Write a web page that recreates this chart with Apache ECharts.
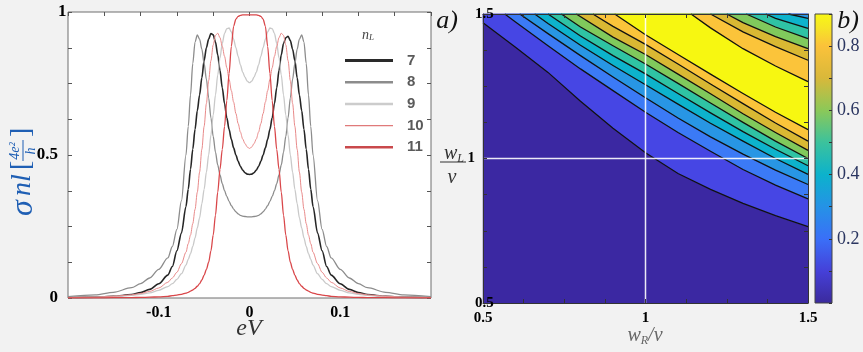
<!DOCTYPE html>
<html>
<head>
<meta charset="utf-8">
<script src="https://cdn.jsdelivr.net/npm/echarts@6/dist/echarts.min.js"></script>
<style>
html,body{margin:0;padding:0;background:#f2f2f2;}
#c{width:863px;height:352px;}
</style>
</head>
<body>
<div id="c"></div>
<script>
// ---------- left panel data (sigma_nl vs eV) ----------
const energies = [-0.2,-0.17,-0.15,-0.13,-0.12,-0.11,-0.1,-0.09,-0.085,-0.08,-0.075,
  -0.07,-0.0675,-0.065,-0.0625,-0.06,-0.0575,-0.055,-0.0525,-0.05,-0.0475,-0.045,-0.0425,-0.04,-0.0375,-0.035,-0.0325,-0.03,-0.0275,-0.025,-0.0225,-0.02,-0.0175,-0.015,-0.0125,-0.01,-0.0075,-0.005,-0.0025,0,
  0.0025,0.005,0.0075,0.01,0.0125,0.015,0.0175,0.02,0.0225,0.025,0.0275,0.03,0.0325,0.035,0.0375,0.04,0.0425,0.045,0.0475,0.05,0.0525,0.055,0.0575,0.06,0.0625,0.065,0.0675,0.07,
  0.075,0.08,0.085,0.09,0.1,0.11,0.12,0.13,0.15,0.17,0.2];
const sigma7 = [0.0015,0.003,0.006,0.012,0.019,0.03,0.05,0.08,0.11,0.165,0.227,
  0.32,0.38,0.45,0.52,0.59,0.655,0.71,0.77,0.83,0.875,0.905,0.925,0.92,0.895,0.85,0.795,0.735,0.68,0.63,0.59,0.555,0.525,0.50,0.478,0.46,0.447,0.438,0.433,0.432,
  0.433,0.438,0.447,0.46,0.478,0.50,0.525,0.555,0.59,0.63,0.68,0.735,0.795,0.85,0.89,0.91,0.915,0.90,0.87,0.83,0.77,0.71,0.655,0.59,0.52,0.45,0.38,0.32,
  0.227,0.165,0.11,0.08,0.05,0.03,0.019,0.012,0.006,0.003,0.0015];
const sigma8 = [0.005,0.011,0.02,0.036,0.05,0.07,0.10,0.14,0.18,0.24,0.34,
  0.50,0.60,0.71,0.82,0.895,0.92,0.905,0.87,0.82,0.765,0.70,0.63,0.565,0.51,0.465,0.43,0.40,0.375,0.355,0.338,0.323,0.311,0.301,0.294,0.289,0.286,0.285,0.284,0.284,
  0.284,0.285,0.286,0.289,0.294,0.301,0.311,0.323,0.338,0.355,0.375,0.40,0.43,0.465,0.51,0.565,0.63,0.70,0.765,0.82,0.87,0.905,0.92,0.895,0.82,0.71,0.60,0.50,
  0.34,0.24,0.18,0.14,0.10,0.07,0.05,0.036,0.02,0.011,0.005];
const sigma9 = [0.0015,0.003,0.005,0.009,0.013,0.018,0.027,0.04,0.05,0.065,0.085,
  0.115,0.135,0.155,0.18,0.21,0.245,0.28,0.33,0.38,0.44,0.50,0.57,0.64,0.71,0.78,0.84,0.89,0.925,0.942,0.944,0.93,0.905,0.875,0.845,0.815,0.79,0.772,0.758,0.753,
  0.758,0.772,0.79,0.815,0.845,0.875,0.905,0.93,0.944,0.942,0.925,0.89,0.84,0.78,0.71,0.64,0.57,0.50,0.44,0.38,0.33,0.28,0.245,0.21,0.18,0.155,0.135,0.115,
  0.085,0.065,0.05,0.04,0.027,0.018,0.013,0.009,0.005,0.003,0.0015];
const sigma10 = [0.0015,0.003,0.006,0.011,0.016,0.023,0.035,0.055,0.07,0.09,0.12,
  0.16,0.19,0.22,0.26,0.31,0.37,0.44,0.52,0.60,0.68,0.76,0.83,0.885,0.918,0.926,0.91,0.88,0.845,0.805,0.765,0.725,0.685,0.645,0.61,0.58,0.556,0.54,0.528,0.523,
  0.528,0.54,0.556,0.58,0.61,0.645,0.685,0.725,0.765,0.805,0.845,0.88,0.91,0.926,0.918,0.885,0.83,0.76,0.68,0.60,0.52,0.44,0.37,0.31,0.26,0.22,0.19,0.16,
  0.12,0.09,0.07,0.055,0.035,0.023,0.016,0.011,0.006,0.003,0.0015];
const sigma11 = [0.0003,0.0005,0.001,0.0015,0.002,0.003,0.004,0.006,0.008,0.01,0.013,
  0.017,0.02,0.024,0.028,0.034,0.041,0.05,0.063,0.08,0.10,0.125,0.165,0.22,0.29,0.37,0.45,0.52,0.60,0.69,0.785,0.88,0.95,0.975,0.985,0.988,0.99,0.99,0.99,0.99,
  0.99,0.99,0.99,0.988,0.985,0.975,0.95,0.88,0.785,0.69,0.60,0.52,0.45,0.37,0.29,0.22,0.165,0.125,0.10,0.08,0.063,0.05,0.041,0.034,0.028,0.024,0.02,0.017,
  0.013,0.01,0.008,0.006,0.004,0.003,0.002,0.0015,0.001,0.0005,0.0003];
const curveNames = ['7','8','9','10','11'];
const curveColors = ['#262626','#8c8c8c','#c9c9c9','#e88a8a','#d9474a'];

// ---------- right panel data (contours in wR/v, wL/v) ----------
const lower1 = [[0.5,1.47],[0.6,1.385],[0.7,1.298],[0.8,1.198],[0.9,1.105],[1.0,1.02],[1.1,0.948],[1.2,0.893],[1.3,0.845],[1.4,0.802],[1.5,0.764]];
const lower2 = [[0.567,1.5],[0.6,1.472],[0.7,1.39],[0.8,1.31],[0.9,1.235],[1.0,1.16],[1.1,1.09],[1.2,1.025],[1.3,0.962],[1.4,0.908],[1.5,0.86]];
const lower3 = [[0.613,1.5],[0.7,1.432],[0.8,1.356],[0.9,1.282],[1.0,1.21],[1.1,1.14],[1.2,1.075],[1.3,1.015],[1.4,0.96],[1.5,0.91]];
const lower4 = [[0.659,1.5],[0.7,1.467],[0.8,1.392],[0.9,1.322],[1.0,1.255],[1.1,1.188],[1.2,1.122],[1.3,1.06],[1.4,1.0],[1.5,0.945]];
const lower5 = [[0.70,1.5],[0.8,1.424],[0.9,1.356],[1.0,1.293],[1.1,1.225],[1.2,1.158],[1.3,1.093],[1.4,1.032],[1.5,0.975]];
const lower6 = [[0.741,1.5],[0.8,1.455],[0.9,1.39],[1.0,1.327],[1.1,1.26],[1.2,1.192],[1.3,1.125],[1.4,1.06],[1.5,1.0]];
const lower7 = [[0.787,1.5],[0.9,1.42],[1.0,1.36],[1.1,1.292],[1.2,1.224],[1.3,1.155],[1.4,1.09],[1.5,1.028]];
const lower8 = [[0.838,1.5],[0.9,1.457],[1.0,1.395],[1.1,1.327],[1.2,1.258],[1.3,1.19],[1.4,1.123],[1.5,1.06]];
const lower9 = [[0.905,1.5],[1.0,1.428],[1.1,1.36],[1.2,1.292],[1.3,1.225],[1.4,1.16],[1.5,1.10]];
const upper4 = [[1.44,1.5],[1.5,1.485]];
const upper5 = [[1.37,1.5],[1.4,1.485],[1.5,1.45]];
const upper6 = [[1.31,1.5],[1.4,1.455],[1.5,1.415]];
const upper7 = [[1.25,1.5],[1.3,1.47],[1.4,1.422],[1.5,1.38]];
const upper8 = [[1.20,1.5],[1.3,1.438],[1.4,1.387],[1.5,1.34]];
const upper9 = [[1.14,1.5],[1.2,1.452],[1.3,1.38],[1.4,1.32],[1.5,1.266]];
const bandColors = ['#3b28a2','#4646e4','#3b7af6','#2896e4','#0db3cc','#2fc3a4','#80c95c','#d9b833','#fbc43a','#f7f711'];
const crossWR = 1, crossWL = 1;

// colorbar
const cbarStops = [[0,'#3b2a9c'],[0.111,'#4540d8'],[0.222,'#3a6ff8'],[0.333,'#2592e6'],[0.444,'#0cb2cc'],[0.556,'#3cc29c'],[0.667,'#8cc858'],[0.778,'#d9b83a'],[0.889,'#fbc23a'],[0.95,'#f6e426'],[1,'#f8f814']];
const cbarLabels = [0.2,0.4,0.6,0.8];

const lowerLines = [lower1,lower2,lower3,lower4,lower5,lower6,lower7,lower8,lower9];
const upperLines = {4:upper4,5:upper5,6:upper6,7:upper7,8:upper8,9:upper9};

const SERIF = "'Liberation Serif','DejaVu Serif',serif";
const chart = echarts.init(document.getElementById('c'));

function near(v, arr){ for (const a of arr){ if (Math.abs(v-a)<1e-6) return true;} return false; }

const lineSeries = [sigma7,sigma8,sigma9,sigma10,sigma11].map((vals,i)=>({
  type:'line', name:curveNames[i], xAxisIndex:0, yAxisIndex:0,
  data: energies.map((x,j)=>[x,vals[j]]),
  showSymbol:false, symbol:'none', smooth:0.3, smoothMonotone:'x',
  lineStyle:{color:curveColors[i], width:[1.6,1.3,1.3,1.0,1.3][i]},
  itemStyle:{color:curveColors[i]}, z:2+i
}));

const option = {
  animation:false,
  backgroundColor:'#f2f2f2',
  grid:[
    {left:68, top:12, width:363, height:286, show:true, backgroundColor:'#ffffff', borderColor:'#6e6e6e', borderWidth:1},
    {left:483, top:14, width:325, height:289},
    {left:815, top:14, width:17, height:289}
  ],
  xAxis:[
    {gridIndex:0, type:'value', min:-0.2, max:0.2, interval:0.1, position:'bottom',
     axisLine:{show:false, onZero:false}, axisTick:{show:false}, splitLine:{show:false},
     axisLabel:{showMinLabel:false, showMaxLabel:false, margin:7, color:'#000', fontFamily:SERIF, fontWeight:'bold', fontSize:16,
       formatter:v=>{const r=Math.round(v*10)/10; if(r===0) return '0'; return r<0?'-'+Math.abs(r):''+r;}}},
    {gridIndex:0, type:'value', min:-0.2, max:0.2, interval:0.04, position:'top',
     axisLine:{show:false, onZero:false}, axisTick:{show:true, inside:true, length:4, lineStyle:{color:'#555'}}, axisLabel:{show:false}, splitLine:{show:false}},
    {gridIndex:1, type:'value', min:0.5, max:1.5, interval:0.125, position:'bottom', z:10,
     axisLine:{show:true, onZero:false, lineStyle:{color:'#333', width:1}}, axisTick:{show:true, inside:true, length:4, lineStyle:{color:'#333'}}, splitLine:{show:false},
     axisLabel:{margin:8, color:'#000', fontFamily:SERIF, fontWeight:'bold', fontSize:15,
       formatter:v=>near(v,[0.5])?'0.5':near(v,[1])?'1':near(v,[1.5])?'1.5':''}},
    {gridIndex:1, type:'value', min:0.5, max:1.5, interval:0.125, position:'top', z:10,
     axisLine:{show:true, onZero:false, lineStyle:{color:'#333', width:1}}, axisTick:{show:true, inside:true, length:4, lineStyle:{color:'#333'}}, axisLabel:{show:false}, splitLine:{show:false}},
    {gridIndex:2, type:'value', min:0, max:1, show:false}
  ],
  yAxis:[
    {gridIndex:0, type:'value', min:0, max:1, interval:0.125, position:'left',
     axisLine:{show:false, onZero:false}, axisTick:{show:true, inside:true, length:4, lineStyle:{color:'#555'}}, splitLine:{show:false},
     axisLabel:{margin:10, color:'#000', fontFamily:SERIF, fontWeight:'bold', fontSize:17, alignMaxLabel:'top',
       formatter:v=>near(v,[0])?'0':near(v,[0.5])?'0.5':near(v,[1])?'1':''}},
    {gridIndex:0, type:'value', min:0, max:1, interval:0.125, position:'right',
     axisLine:{show:false, onZero:false}, axisTick:{show:true, inside:true, length:4, lineStyle:{color:'#555'}}, axisLabel:{show:false}, splitLine:{show:false}},
    {gridIndex:1, type:'value', min:0.5, max:1.5, interval:0.125, position:'left', z:10,
     axisLine:{show:true, onZero:false, lineStyle:{color:'#333', width:1}}, axisTick:{show:true, inside:true, length:4, lineStyle:{color:'#333'}}, splitLine:{show:false},
     axisLabel:{margin:8, color:'#000', fontFamily:SERIF, fontWeight:'bold', fontSize:15, alignMinLabel:'bottom', alignMaxLabel:'top',
       formatter:v=>near(v,[0.5])?'0.5':near(v,[1])?'1':near(v,[1.5])?'1.5':''}},
    {gridIndex:1, type:'value', min:0.5, max:1.5, interval:0.125, position:'right', z:10,
     axisLine:{show:true, onZero:false, lineStyle:{color:'#333', width:1}}, axisTick:{show:true, inside:true, length:4, lineStyle:{color:'#333'}}, axisLabel:{show:false}, splitLine:{show:false}},
    {gridIndex:2, type:'value', min:0, max:0.9, interval:0.1, position:'right', z:10,
     axisLine:{show:false, onZero:false}, axisTick:{show:true, inside:true, length:3, lineStyle:{color:'#333'}}, splitLine:{show:false},
     axisLabel:{margin:5, color:'#2a3560', fontFamily:SERIF, fontSize:18,
       formatter:v=>{for(const c of cbarLabels){ if(Math.abs(v-c)<1e-6) return c.toFixed(1);} return '';}}}
  ],
  legend:{
    orient:'vertical', left:340, top:48, itemWidth:48, itemHeight:14, itemGap:6.7, symbolKeepAspect:true,
    textStyle:{fontFamily:"'Liberation Sans',Arial,sans-serif", fontWeight:'bold', fontSize:15, color:'#5a5a5a', lineHeight:14, padding:[0,0,0,9]},
    data:[
      {name:'7', icon:'path://M0,0H48V3H0Z', itemStyle:{color:'#2a2a2a'}},
      {name:'8', icon:'path://M0,0H48V2.5H0Z', itemStyle:{color:'#8c8c8c'}},
      {name:'9', icon:'path://M0,0H48V2.5H0Z', itemStyle:{color:'#cccccc'}},
      {name:'10', icon:'path://M0,0H48V1.3H0Z', itemStyle:{color:'#e07a7a'}},
      {name:'11', icon:'path://M0,0H48V2.6H0Z', itemStyle:{color:'#c9494c'}}
    ]
  },
  graphic:[
    {type:'text', x:447, y:21, style:{text:'a)', font:'italic 26px '+SERIF, fill:'#111', align:'center', verticalAlign:'middle'}},
    {type:'text', x:848, y:21, style:{text:'b)', font:'italic 26px '+SERIF, fill:'#111', align:'center', verticalAlign:'middle'}},
    {type:'text', x:368, y:35, style:{text:'{n|n}{s|L}', align:'center', verticalAlign:'middle', fill:'#444',
       rich:{n:{font:'italic 14px '+SERIF, fill:'#444'}, s:{font:'italic 9px '+SERIF, fill:'#444', padding:[6,0,0,0]}}}},
    {type:'text', x:249, y:329, style:{text:'eV', font:'italic 24px '+SERIF, fill:'#333', align:'center', verticalAlign:'middle'}},
    {type:'text', x:645, y:336, style:{text:'{w|w}{s|R}{w|/v}', align:'center', verticalAlign:'middle',
       rich:{w:{font:'italic 20px '+SERIF, fill:'#666'}, s:{font:'italic 12px '+SERIF, fill:'#666', padding:[9,0,0,0]}}}},
    {type:'text', x:454, y:154, style:{text:'{w|w}{s|L}', align:'center', verticalAlign:'middle',
       rich:{w:{font:'italic 20px '+SERIF, fill:'#333'}, s:{font:'italic 12px '+SERIF, fill:'#333', padding:[9,0,0,0]}}}},
    {type:'line', shape:{x1:440, y1:162, x2:466, y2:162}, style:{stroke:'#333', lineWidth:1}},
    {type:'text', x:452, y:178, style:{text:'v', font:'italic 20px '+SERIF, fill:'#333', align:'center', verticalAlign:'middle'}},
    {type:'group', x:24, y:170, rotation:Math.PI/2, children:[
      {type:'text', x:-46, y:0, style:{text:'σ', font:'italic 32px '+SERIF, fill:'#1f5fb4', align:'left', verticalAlign:'middle'}},
      {type:'text', x:-26, y:-1, style:{text:'nl', font:'italic 28px '+SERIF, fill:'#1f5fb4', align:'left', verticalAlign:'middle'}},
      {type:'text', x:0, y:-2, style:{text:'[', font:'28px '+SERIF, fill:'#1f5fb4', align:'left', verticalAlign:'middle'}},
      {type:'text', x:19, y:-9, style:{text:'4e²', font:'italic 14px '+SERIF, fill:'#1f5fb4', align:'center', verticalAlign:'middle'}},
      {type:'line', shape:{x1:9, y1:-1, x2:30, y2:-1}, style:{stroke:'#1f5fb4', lineWidth:1}},
      {type:'text', x:19, y:7, style:{text:'h', font:'italic 14px '+SERIF, fill:'#1f5fb4', align:'center', verticalAlign:'middle'}},
      {type:'text', x:33, y:-2, style:{text:']', font:'28px '+SERIF, fill:'#1f5fb4', align:'left', verticalAlign:'middle'}}
    ]}
  ],
  series:[
    ...lineSeries,
    {type:'custom', name:'fill', xAxisIndex:2, yAxisIndex:2, silent:true, z:2,
     data:[0,1,2,3,4,5,6,7,8,9],
     renderItem:(params, api)=>{
       const k = params.dataIndex;
       let pts;
       if (k===0){ pts=[[0.5,0.5],[1.5,0.5],[1.5,1.5],[0.5,1.5]]; }
       else {
         const low = lowerLines[k-1];
         const up = upperLines[k];
         pts = low.slice();
         if (up) pts = pts.concat(up.slice().reverse()); else pts.push([1.5,1.5]);
         if (low[0][0] <= 0.5) pts.push([0.5,1.5]);
       }
       return {type:'polygon', shape:{points:pts.map(p=>api.coord(p))}, style:{fill:bandColors[k], stroke:bandColors[k], lineWidth:0.5}};
     }},
    {type:'custom', name:'contours', xAxisIndex:2, yAxisIndex:2, silent:true, z:3,
     data:[0,1,2,3,4,5,6,7,8,9,10,11,12,13,14],
     renderItem:(params, api)=>{
       const all = lowerLines.concat([upper4,upper5,upper6,upper7,upper8,upper9]);
       const ln = all[params.dataIndex];
       return {type:'polyline', shape:{points:ln.map(p=>api.coord(p))}, style:{stroke:'#111111', lineWidth:1.3, fill:null}};
     }},
    {type:'line', name:'crossV', xAxisIndex:2, yAxisIndex:2, data:[[crossWR,0.5],[crossWR,1.5]], symbol:'none', silent:true,
     lineStyle:{color:'#ffffff', width:1.5, opacity:0.9}, z:4},
    {type:'line', name:'crossH', xAxisIndex:2, yAxisIndex:2, data:[[0.5,crossWL],[1.5,crossWL]], symbol:'none', silent:true,
     lineStyle:{color:'#ffffff', width:1.5, opacity:0.9}, z:4},
    {type:'custom', name:'cbar', xAxisIndex:4, yAxisIndex:4, silent:true, data:[0],
     renderItem:(params, api)=>{
       const tl = api.coord([0,0.9]), br = api.coord([1,0]);
       return {type:'rect', shape:{x:tl[0], y:tl[1], width:br[0]-tl[0], height:br[1]-tl[1]},
         style:{fill:{type:'linear', x:0, y:1, x2:0, y2:0, colorStops:cbarStops.map(s=>({offset:s[0], color:s[1]}))}, stroke:'#444', lineWidth:1}};
     }}
  ]
};
chart.setOption(option);
</script>
</body>
</html>
